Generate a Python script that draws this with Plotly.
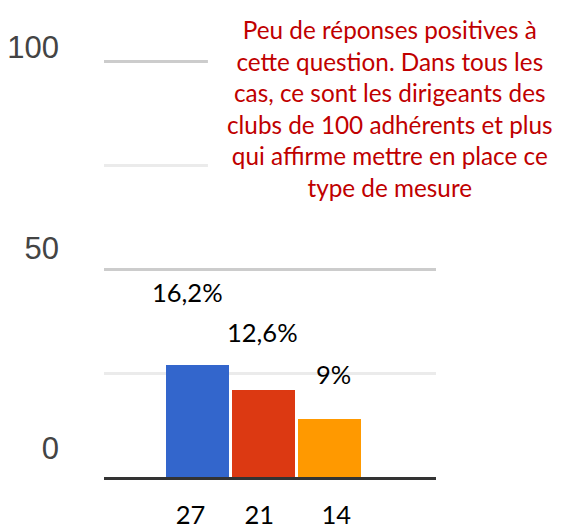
import plotly.graph_objects as go

# ---- data ----
bar_values = [27, 21, 14]
bar_labels = ["27", "21", "14"]
percent_labels = ["16,2%", "12,6%", "9%"]
bar_colors = ["#3366cc", "#dc3912", "#ff9900"]
y_tick_values = [0, 50, 100]
y_tick_labels = ["0", "50", "100"]
note_lines = [
    "Peu de réponses positives à",
    "cette question. Dans tous les",
    "cas, ce sont les dirigeants des",
    "clubs de 100 adhérents et plus",
    "qui affirme mettre en place ce",
    "type de mesure",
]

# ---- layout constants (page body adds an 8px offset) ----
W, H = 554, 520
ML, MR, MT, MB = 96, 126, 12, 51
x_pos = list(range(len(bar_values)))
x_label_shift = [-0.103, -0.061, 0.106]
pct_label_pos = [(-0.156, 44.4), (0.985, 34.9), (2.067, 24.8)]

fig = go.Figure()
fig.add_trace(go.Bar(
    x=x_pos, y=bar_values, width=0.95,
    marker=dict(color=bar_colors, line=dict(width=0)),
    hoverinfo="skip", showlegend=False,
))
# invisible trace to activate the label axis
fig.add_trace(go.Scatter(x=[0], y=[0], yaxis="y2", mode="markers",
                         marker=dict(opacity=0), showlegend=False, hoverinfo="skip"))

for (px, py), txt in zip(pct_label_pos, percent_labels):
    fig.add_annotation(x=px, y=py, xref="x", yref="y", text=txt, showarrow=False,
                       xanchor="center", yanchor="middle",
                       font=dict(family="Lato", size=25.5, color="#000000"))

fig.add_shape(type="rect", xref="paper", yref="y", x0=0.313, x1=1.05, y0=60, y1=112,
              fillcolor="white", line=dict(width=0), layer="above")

fig.add_annotation(x=0.861, y=0.806, xref="paper", yref="paper",
                   xanchor="center", yanchor="middle",
                   text="<br>".join(note_lines), showarrow=False, align="center",
                   font=dict(family="Lato", size=24.3, color="#c00000"))

fig.update_layout(
    width=W, height=H,
    margin=dict(l=ML, r=MR, t=MT, b=MB, pad=0, autoexpand=False),
    paper_bgcolor="white", plot_bgcolor="white",
    bargap=0,
    xaxis=dict(range=[-1.414, 3.617],
               tickvals=[p + s for p, s in zip(x_pos, x_label_shift)],
               ticktext=bar_labels,
               tickfont=dict(family="Lato", size=25.5, color="#000000"),
               showline=True, linecolor="#333333", linewidth=3,
               showgrid=False, zeroline=False, ticks="", ticklabelstandoff=13,
               automargin=False, fixedrange=True),
    yaxis=dict(range=[0, 109.93], dtick=50, tick0=0, showticklabels=False,
               showgrid=True, gridcolor="#cccccc", gridwidth=2.5, zeroline=False,
               minor=dict(dtick=25, showgrid=True, gridcolor="#ebebeb", gridwidth=2.5),
               automargin=False, fixedrange=True),
    yaxis2=dict(overlaying="y", side="left", range=[-7.24, 106.87],
                tickvals=y_tick_values, ticktext=y_tick_labels,
                tickfont=dict(family="Liberation Sans", size=31, color="#444444"),
                showgrid=False, zeroline=False, showline=False, ticks="",
                ticklabelstandoff=44, automargin=False, fixedrange=True),
)

fig.write_html("out.html")
